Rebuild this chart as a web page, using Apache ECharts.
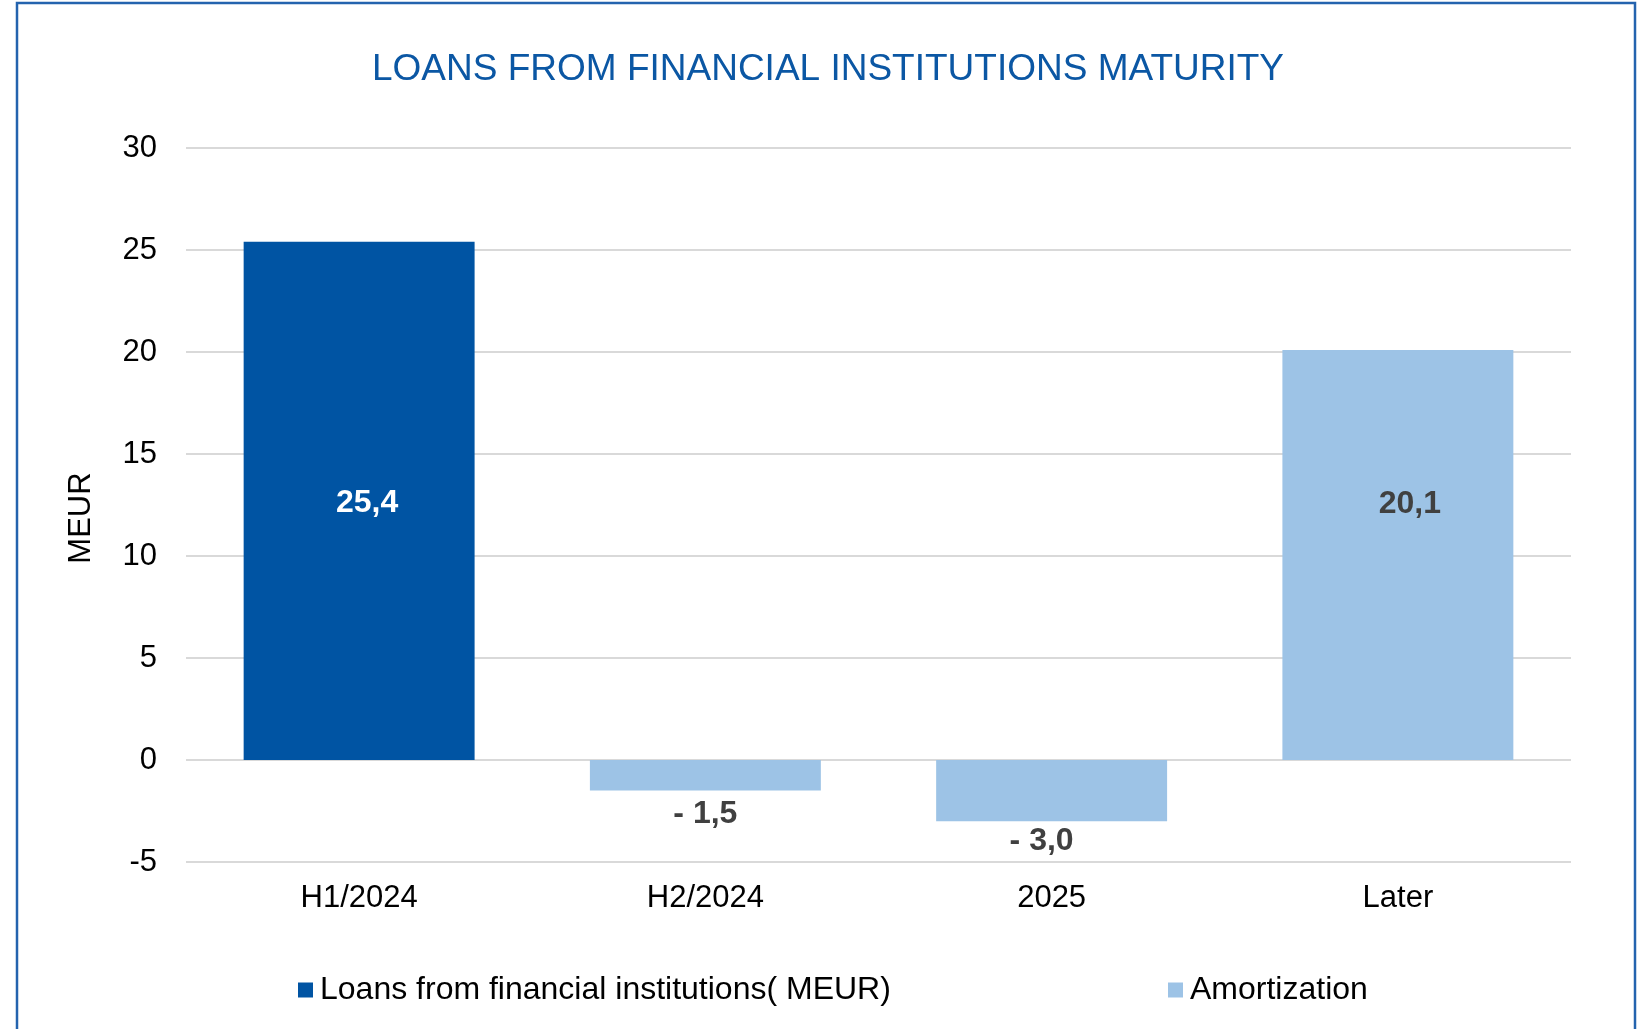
<!DOCTYPE html>
<html><head><meta charset="utf-8">
<style>html,body{margin:0;padding:0;background:#fff}#c{width:1639px;height:1029px}</style>
<script src="https://cdn.jsdelivr.net/npm/echarts@6/dist/echarts.min.js"></script>
</head><body><div id="c"></div>
<script>
const categories = ['H1/2024', 'H2/2024', '2025', 'Later'];
const loans = [25.4, null, null, null];
const amortization = [null, -1.5, -3.0, 20.1];
const yTicks = [-5, 0, 5, 10, 15, 20, 25, 30];
const seriesNames = ['Loans from financial institutions( MEUR)', 'Amortization'];

const FONT = 'Liberation Sans, Arial, sans-serif';
const fmt = v => (v < 0 ? '- ' : '') + Math.abs(v).toFixed(1).replace('.', ',');

function items(arr, color) {
  return arr.map((v, i) => {
    if (v == null) return null;
    const lab = v < 0
      ? { position: 'bottom', distance: i === 2 ? 4 : 8, color: '#404040', offset: [i === 2 ? -10 : 0, 0] }
      : { position: 'inside', color: color };
    return { value: v, label: lab };
  });
}

const chart = echarts.init(document.getElementById('c'), null, { renderer: 'canvas' });
chart.setOption({
  backgroundColor: '#fff',
  animation: false,
  graphic: [{
    type: 'rect', shape: { x: 17, y: 3, width: 1618, height: 1100 },
    style: { fill: 'none', stroke: '#2463AE', lineWidth: 2.5 }, z: 100
  }],
  title: {
    text: 'LOANS FROM FINANCIAL INSTITUTIONS MATURITY',
    left: 823, top: 46, textAlign: 'center',
    textStyle: { color: '#0B57A4', fontFamily: FONT, fontWeight: 'normal', fontSize: 37 }
  },
  legend: [
    { data: [seriesNames[0]], left: 293, top: 969, itemWidth: 15, itemHeight: 15, itemGap: 0,
      icon: 'rect', textStyle: { fontFamily: FONT, fontSize: 32, color: '#000', padding: [0, 0, 0, 2] } },
    { data: [seriesNames[1]], left: 1163, top: 969, itemWidth: 15, itemHeight: 15, itemGap: 0,
      icon: 'rect', textStyle: { fontFamily: FONT, fontSize: 32, color: '#000', padding: [0, 0, 0, 2] } }
  ],
  grid: { left: 186, right: 68, top: 148, bottom: 167, containLabel: false },
  xAxis: {
    type: 'category', data: categories,
    axisLine: { show: false }, axisTick: { show: false },
    axisLabel: { fontFamily: FONT, fontSize: 31, color: '#000', margin: 21 }
  },
  yAxis: {
    type: 'value', min: yTicks[0], max: yTicks[yTicks.length - 1], interval: 5,
    name: 'MEUR', nameLocation: 'middle', nameGap: 89, nameRotate: 90,
    nameTextStyle: { fontFamily: FONT, fontSize: 31, color: '#000', padding: [0, 26, 0, 0] },
    axisLine: { show: false }, axisTick: { show: false },
    axisLabel: { fontFamily: FONT, fontSize: 31, color: '#000', margin: 29 },
    splitLine: { lineStyle: { color: '#D9D9D9', width: 2 } }
  },
  series: [
    {
      name: seriesNames[0], type: 'bar', stack: 's', barWidth: '66.7%',
      itemStyle: { color: '#0054A3' },
      label: { show: true, fontFamily: FONT, fontSize: 32, fontWeight: 'bold', formatter: p => fmt(p.value), offset: [8, 2] },
      data: items(loans, '#FFFFFF')
    },
    {
      name: seriesNames[1], type: 'bar', stack: 's', barWidth: '66.7%',
      itemStyle: { color: '#9DC3E6' },
      label: { show: true, fontFamily: FONT, fontSize: 32, fontWeight: 'bold', formatter: p => fmt(p.value) },
      data: items(amortization, '#404040').map((d, i) => {
        if (d && d.value > 0) d.label.offset = [12, -51];
        return d;
      })
    }
  ]
});
</script></body></html>
